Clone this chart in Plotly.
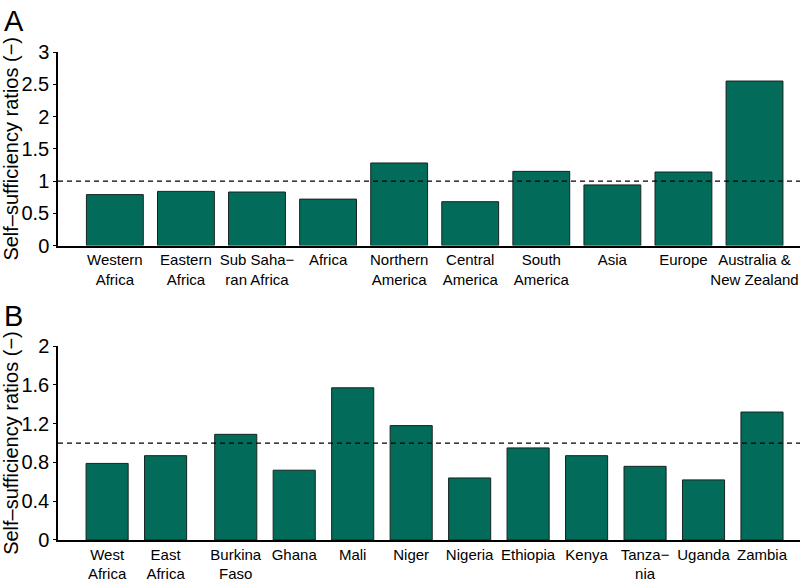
import plotly.graph_objects as go

# Panel A data
regions = ["Western<br>Africa", "Eastern<br>Africa", "Sub Saha−<br>ran Africa", "Africa",
           "Northern<br>America", "Central<br>America", "South<br>America", "Asia",
           "Europe", "Australia &<br>New Zealand"]
ratios_a = [0.79, 0.84, 0.83, 0.72, 1.28, 0.68, 1.15, 0.94, 1.14, 2.55]
pos_a = [0, 1, 2, 3, 4, 5, 6, 7, 8, 9]

# Panel B data
countries = ["West<br>Africa", "East<br>Africa", "Burkina<br>Faso", "Ghana", "Mali", "Niger",
             "Nigeria", "Ethiopia", "Kenya", "Tanza−<br>nia", "Uganda", "Zambia"]
ratios_b = [0.79, 0.87, 1.09, 0.72, 1.57, 1.18, 0.64, 0.95, 0.87, 0.76, 0.62, 1.32]
pos_b = [0, 1, 2.2, 3.2, 4.2, 5.2, 6.2, 7.2, 8.2, 9.2, 10.2, 11.2]

threshold = 1.0

BAR = "#036b59"
EDGE = "#16241f"
FONT = "Liberation Sans, Arial, sans-serif"

# plot area in pixels
L, R, T, B = 58, 2, 52, 41.7
W, H = 802, 582
PH = H - T - B  # plot-area height


def fy(py):
    return (H - B - py) / PH


def fx(px):
    return (px - L) / (W - L - R)


fig = go.Figure()
fig.add_trace(go.Bar(x=pos_a, y=ratios_a, width=0.8, marker=dict(color=BAR, line=dict(color=EDGE, width=1)),
                     xaxis="x", yaxis="y", showlegend=False))
fig.add_trace(go.Bar(x=pos_b, y=ratios_b, width=0.72, marker=dict(color=BAR, line=dict(color=EDGE, width=1)),
                     xaxis="x2", yaxis="y2", showlegend=False))

rng_a = [-0.8, 9.64]
rng_b = [-0.84, 11.85]

# dashed threshold lines
fig.add_trace(go.Scatter(x=rng_a, y=[threshold, threshold], mode="lines",
                         line=dict(color="black", width=1.2, dash="5px,4px"),
                         xaxis="x", yaxis="y", showlegend=False, hoverinfo="skip"))
fig.add_trace(go.Scatter(x=rng_b, y=[threshold, threshold], mode="lines",
                         line=dict(color="black", width=1.2, dash="5px,4px"),
                         xaxis="x2", yaxis="y2", showlegend=False, hoverinfo="skip"))

ya = [fy(245.7), 1]
yb = [0, fy(346.3)]

common_x = dict(showline=True, linecolor="black", linewidth=1.5, ticks="", showgrid=False,
                zeroline=False, automargin=False, domain=[0, 1],
                tickfont=dict(size=15, color="black", family=FONT))
common_y = dict(showline=True, linecolor="black", linewidth=1.5, ticks="outside", ticklen=3,
                tickcolor="black", showgrid=False, zeroline=False, automargin=False,
                tickfont=dict(size=20, color="black", family=FONT))
ytitle = dict(text="Self–sufficiency ratios (−)", font=dict(size=20, family=FONT), standoff=4)

fig.update_layout(
    width=W, height=H,
    margin=dict(l=L, r=R, t=T, b=B),
    plot_bgcolor="white", paper_bgcolor="white",
    font=dict(family=FONT, color="black"),
    xaxis=dict(range=rng_a, tickmode="array", tickvals=pos_a, ticktext=regions,
               anchor="y", **common_x),
    yaxis=dict(domain=ya, range=[0, 3], tickmode="array", tickvals=[0, 0.5, 1, 1.5, 2, 2.5, 3],
               ticktext=["0", "0.5", "1", "1.5", "2", "2.5", "3"], anchor="x",
               title=ytitle, **common_y),
    xaxis2=dict(range=rng_b, tickmode="array", tickvals=pos_b, ticktext=countries,
                anchor="y2", **common_x),
    yaxis2=dict(domain=yb, range=[0, 2], tickmode="array", tickvals=[0, 0.4, 0.8, 1.2, 1.6, 2],
                ticktext=["0", "0.4", "0.8", "1.2", "1.6", "2"], anchor="x2",
                title=ytitle, **common_y),
    annotations=[
        dict(text="A", x=fx(2), y=fy(3), xref="paper", yref="paper", xanchor="left", yanchor="top",
             showarrow=False, font=dict(size=29, family=FONT, color="black")),
        dict(text="B", x=fx(2), y=fy(298), xref="paper", yref="paper", xanchor="left", yanchor="top",
             showarrow=False, font=dict(size=29, family=FONT, color="black")),
    ],
)

fig.write_html("out.html", config={"displayModeBar": False},
               post_script="document.body.style.margin='0';")
